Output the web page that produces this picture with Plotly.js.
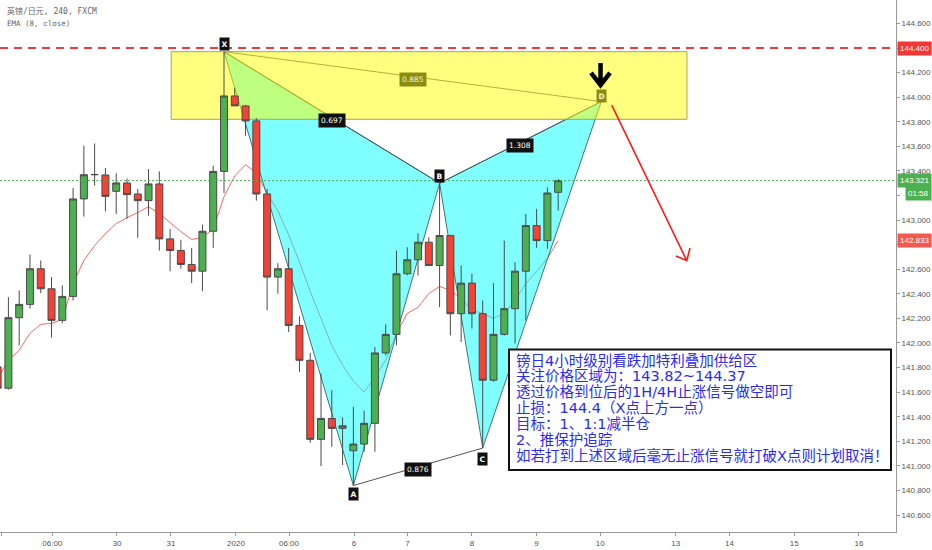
<!DOCTYPE html>
<html><head><meta charset="utf-8">
<script src="https://cdn.plot.ly/plotly-3.0.1.min.js"></script>
<style>html,body{margin:0;padding:0;background:#fff}#chart{width:932px;height:550px}</style>
</head><body><div id="chart"></div>
<script>
// ---- data (4H bars, index 0 = X bar) ----
const barIndex = [-21,-20,-19,-18,-17,-16,-15,-14,-13,-12,-11,-10,-9,-8,-7,-6,-5,-4,-3,-2,-1,0,1,2,3,4,5,6,7,8,9,10,11,12,13,14,15,16,17,18,19,20,21,22,23,24,25,26,27,28,29,30,31];
const openP  = [141.805,141.632,142.206,142.314,142.604,142.441,142.184,142.379,143.172,143.370,143.367,143.234,143.302,143.212,143.158,143.294,142.847,142.752,142.639,142.584,142.909,143.396,144.010,143.929,143.807,143.212,142.536,142.604,142.143,141.859,141.216,141.386,141.305,141.123,141.178,141.346,141.919,142.070,142.563,142.677,142.820,142.630,142.874,142.238,142.487,142.238,141.697,142.070,142.279,142.584,142.955,142.833,143.226];
const highP  = [141.840,142.373,142.428,142.720,142.671,142.536,142.468,143.261,143.605,143.623,143.424,143.380,143.339,143.253,143.415,143.396,142.928,142.839,142.774,142.963,143.442,144.370,144.073,143.937,143.829,143.253,142.649,142.774,142.217,141.919,141.751,141.616,141.394,141.480,141.448,141.967,142.152,142.752,142.779,142.893,142.860,143.300,142.880,142.630,142.563,142.346,142.487,142.833,142.657,143.050,143.091,143.266,143.334];
const lowP   = [141.600,141.620,141.981,142.280,142.406,142.044,142.160,142.346,143.028,143.280,143.071,143.050,143.010,142.855,143.036,142.752,142.584,142.604,142.487,142.422,142.774,143.220,143.929,143.686,143.158,142.265,142.400,142.089,141.764,141.188,140.999,141.156,141.007,140.840,141.115,141.115,141.900,141.981,142.550,142.549,142.630,142.292,142.062,142.008,142.117,141.145,141.684,142.060,141.995,142.184,142.774,142.766,143.077];
const closeP = [141.632,142.206,142.314,142.604,142.441,142.184,142.379,143.172,143.369,143.370,143.193,143.302,143.207,143.158,143.294,142.847,142.752,142.639,142.584,142.909,143.396,144.010,143.929,143.807,143.212,142.536,142.604,142.143,141.859,141.216,141.386,141.305,141.326,141.178,141.346,141.919,142.070,142.563,142.677,142.820,142.630,142.874,142.238,142.487,142.238,141.697,142.070,142.279,142.584,142.955,142.833,143.220,143.321];
const ema8   = [141.713,141.859,141.941,142.079,142.152,142.160,142.192,142.484,142.671,142.793,142.890,142.971,143.020,143.061,143.109,143.053,142.980,142.906,142.842,142.858,142.931,143.190,143.360,143.450,143.385,143.220,143.075,142.880,142.660,142.420,142.200,141.980,141.820,141.690,141.600,141.721,141.859,142.079,142.241,142.290,142.403,142.460,142.428,142.363,142.265,142.241,142.200,142.241,142.346,142.484,142.582,142.687,142.833];

// harmonic pattern X A B C D
const patName  = ['X','A','B','C','D'];
const patBar   = [0, 12, 20, 24, 35];
const patPrice = [144.370, 140.840, 143.300, 141.145, 143.964];
const ratioText = ['0.697','0.876','1.308','0.885'];
// supply zone
const zoneBars  = [-4.9, 42.95];
const zonePrice = [143.82, 144.37];
// levels
const stopLevel = 144.400;
const lastPrice = 143.321;
const emaLast   = 142.833;
// projected move arrow (drawing)
const arrowBars   = [35.97, 42.93, 41.93, 43.23];
const arrowPrices = [143.936, 142.670, 142.708, 142.773];
const markBars    = [34.93, 34.05, 35.81];
const markPrices  = [144.278, 144.099, 144.197];

// axes labels
const dateTickPos  = [-20.6,-15.93,-9.93,-4.92,1.11,6.03,12.06,17.03,23.0,28.99,34.9,41.9,46.9,52.9,58.9];
const dateTickText = ['5','06:00','30','31','2020','06:00','6','7','8','9','10','13','14','15','16'];
const priceTicks   = [140.6,140.8,141.0,141.2,141.4,141.6,141.8,142.0,142.2,142.4,142.6,142.8,143.0,143.2,143.4,143.6,143.8,144.0,144.2,144.4,144.6];
const hiddenTicks  = [142.8, 143.2];   // covered by the price tags in the reference

const noteLines = [
  '镑日4小时级别看跌加特利叠加供给区',
  '关注价格区域为：143.82~144.37',
  '透过价格到位后的1H/4H止涨信号做空即可',
  '止损：144.4（X点上方一点）',
  '目标：1、1:1减半仓',
  '2、推保护追踪',
  '如若打到上述区域后毫无止涨信号就打破X点则计划取消！'
];

// ---- geometry helpers ----
const W = 896, H = 532;
const px = v => v / W;
const py = v => 1 - v / H;
const xRange = [-20.78, 62.34];
const yRange = [140.462, 144.7906];

const traces = [];
traces.push({type:'scatter', mode:'lines', x:barIndex, y:ema8, xaxis:'x', yaxis:'y',
  line:{color:'#f26b5f', width:1}, hoverinfo:'skip'});
function tri(a,b,c){
  return {type:'scatter', mode:'lines', x:[patBar[a],patBar[b],patBar[c],patBar[a]], y:[patPrice[a],patPrice[b],patPrice[c],patPrice[a]],
    fill:'toself', fillcolor:'rgba(0,255,255,0.5)', line:{color:'rgba(50,90,90,0.85)', width:1}, hoverinfo:'skip', xaxis:'x', yaxis:'y'};
}
traces.push(tri(0,1,2));
traces.push(tri(2,3,4));
function seg(a,b,col){
  return {type:'scatter', mode:'lines', x:[patBar[a],patBar[b]], y:[patPrice[a],patPrice[b]],
    line:{color:col, width:1}, hoverinfo:'skip', xaxis:'x', yaxis:'y'};
}
traces.push(seg(0,2,'#555'));
traces.push(seg(1,3,'#555'));
traces.push(seg(2,4,'#555'));
traces.push(seg(0,4,'#666'));
traces.push({type:'scatter', mode:'lines',
  x:[zoneBars[0],zoneBars[1],zoneBars[1],zoneBars[0],zoneBars[0]],
  y:[zonePrice[0],zonePrice[0],zonePrice[1],zonePrice[1],zonePrice[0]],
  fill:'toself', fillcolor:'rgba(255,255,0,0.5)', line:{color:'#a3a36a', width:1}, hoverinfo:'skip', xaxis:'x', yaxis:'y'});
traces.push({type:'candlestick', x:barIndex, open:openP, high:highP, low:lowP, close:closeP,
  xaxis:'x2', yaxis:'y2', whiskerwidth:0, hoverinfo:'skip',
  increasing:{fillcolor:'#4caf50', line:{color:'#4a4a4a', width:1}},
  decreasing:{fillcolor:'#f44336', line:{color:'#4a4a4a', width:1}}});

const axFont = {family:'Liberation Sans, Arial, sans-serif', size:8, color:'#555'};
const shapes = [
  {type:'line', xref:'paper', x0:0, x1:1, yref:'y', y0:stopLevel, y1:stopLevel, line:{color:'#f23b3b', width:2, dash:'8px,6px'}, layer:'above'},
  {type:'line', xref:'paper', x0:0, x1:1, yref:'y', y0:lastPrice, y1:lastPrice, line:{color:'#4caf50', width:1, dash:'2px,2px'}, layer:'above'},
  {type:'path', xref:'x', yref:'y', layer:'above', line:{color:'#ff1a1a', width:1.6},
   path:`M${arrowBars[0]},${arrowPrices[0]} L${arrowBars[1]},${arrowPrices[1]} M${arrowBars[2]},${arrowPrices[2]} L${arrowBars[1]},${arrowPrices[1]} L${arrowBars[3]},${arrowPrices[3]}`},
  {type:'path', xref:'x', yref:'y', layer:'above', line:{color:'#000', width:4.5},
   path:`M${markBars[0]},${markPrices[0]} L${markBars[0]},${markPrices[1]} M${markBars[1]},${markPrices[2]} L${markBars[0]},${markPrices[1]} L${markBars[2]},${markPrices[2]}`},
  {type:'rect', xref:'paper', yref:'paper', x0:px(509), x1:px(891), y0:py(470), y1:py(349.5), fillcolor:'#fff', line:{color:'#111', width:2}, layer:'above'}
];

const ann = [];
ann.push({xref:'paper', yref:'paper', x:px(5), y:py(11.5), xanchor:'left', yanchor:'middle', showarrow:false,
  text:'英镑/日元, 240, FXCM', font:{family:'DejaVu Sans Mono, Noto Sans CJK SC', size:8, color:'#666'}});
ann.push({xref:'paper', yref:'paper', x:px(5), y:py(23.5), xanchor:'left', yanchor:'middle', showarrow:false,
  text:'EMA (8, close)', font:{family:'DejaVu Sans Mono, monospace', size:7.5, color:'#666'}});
noteLines.forEach((t,i)=>{
  ann.push({xref:'paper', yref:'paper', x:px(514), y:py(360.5 + i*15.8), xanchor:'left', yanchor:'middle', showarrow:false,
    text:t, font:{family:'DejaVu Sans, Noto Sans CJK SC', size:14.5, color:'#2b2bee'}});
});
const labShift = [8, -8, 7, -11, 6];
patName.forEach((n,i)=>{
  ann.push({xref:'x', yref:'y', x:patBar[i], y:patPrice[i], yshift:labShift[i], showarrow:false, text:'<b>'+n+'</b>',
    bgcolor: n==='D' ? '#8c8c10' : '#111', borderpad:1.5,
    font:{family:'DejaVu Sans, sans-serif', size:7.5, color: n==='D' ? '#f4f4d0' : '#fff'}});
});
const ratioPairs = [[0,2],[1,3],[2,4],[0,4]];
ratioPairs.forEach((p,i)=>{
  const a=p[0], b=p[1];
  ann.push({xref:'x', yref:'y', x:(patBar[a]+patBar[b])/2, y:(patPrice[a]+patPrice[b])/2, yshift: i===0 ? -3 : -3, showarrow:false,
    text:ratioText[i], bgcolor: i===3 ? '#8c8c10' : '#111', borderpad:2,
    font:{family:'DejaVu Sans, sans-serif', size:7.5, color: i===3 ? '#f4f4d0' : '#fff'}});
});
function priceTag(val, bg, txt, xpx, shift){
  ann.push({xref:'paper', yref:'y', x:px(xpx), y:val, yshift:shift||0, xanchor:'left', yanchor:'middle', showarrow:false,
    text:txt, bgcolor:bg, borderpad:2, font:{family:'Liberation Sans, Arial, sans-serif', size:8, color:'#fff'}});
}
priceTag(stopLevel, '#f23636', stopLevel.toFixed(3), 897);
priceTag(lastPrice, '#4caf50', lastPrice.toFixed(3), 897);
priceTag(lastPrice, '#4caf50', '01:58', 905, -13);
priceTag(emaLast, '#f25a50', emaLast.toFixed(3), 897);

const layout = {
  width:932, height:550, margin:{l:0, r:36, t:0, b:18}, paper_bgcolor:'#fff', plot_bgcolor:'#fff',
  showlegend:false, hovermode:false, boxgap:0.2, boxgroupgap:0.19,
  xaxis:{range:xRange, tickvals:dateTickPos, ticktext:dateTickText, showgrid:false, zeroline:false, showline:true,
    linecolor:'#999', linewidth:1, ticks:'outside', ticklen:3, tickcolor:'#999', tickfont:axFont, fixedrange:true,
    rangeslider:{visible:false}},
  yaxis:{side:'right', range:yRange, tickvals:priceTicks,
    ticktext:priceTicks.map(v=> hiddenTicks.some(h=>Math.abs(h-v)<1e-9) ? '' : v.toFixed(3)),
    showgrid:false, zeroline:false,
    showline:true, linecolor:'#999', linewidth:1, ticks:'outside', ticklen:3, tickcolor:'#999', tickfont:axFont, fixedrange:true},
  xaxis2:{overlaying:'x', anchor:'y2', range:xRange, visible:false, fixedrange:true, rangeslider:{visible:false}},
  yaxis2:{overlaying:'y', anchor:'x2', range:yRange, visible:false, fixedrange:true, side:'right'},
  shapes:shapes, annotations:ann
};
Plotly.newPlot('chart', traces, layout, {staticPlot:true, displayModeBar:false});
</script></body></html>
